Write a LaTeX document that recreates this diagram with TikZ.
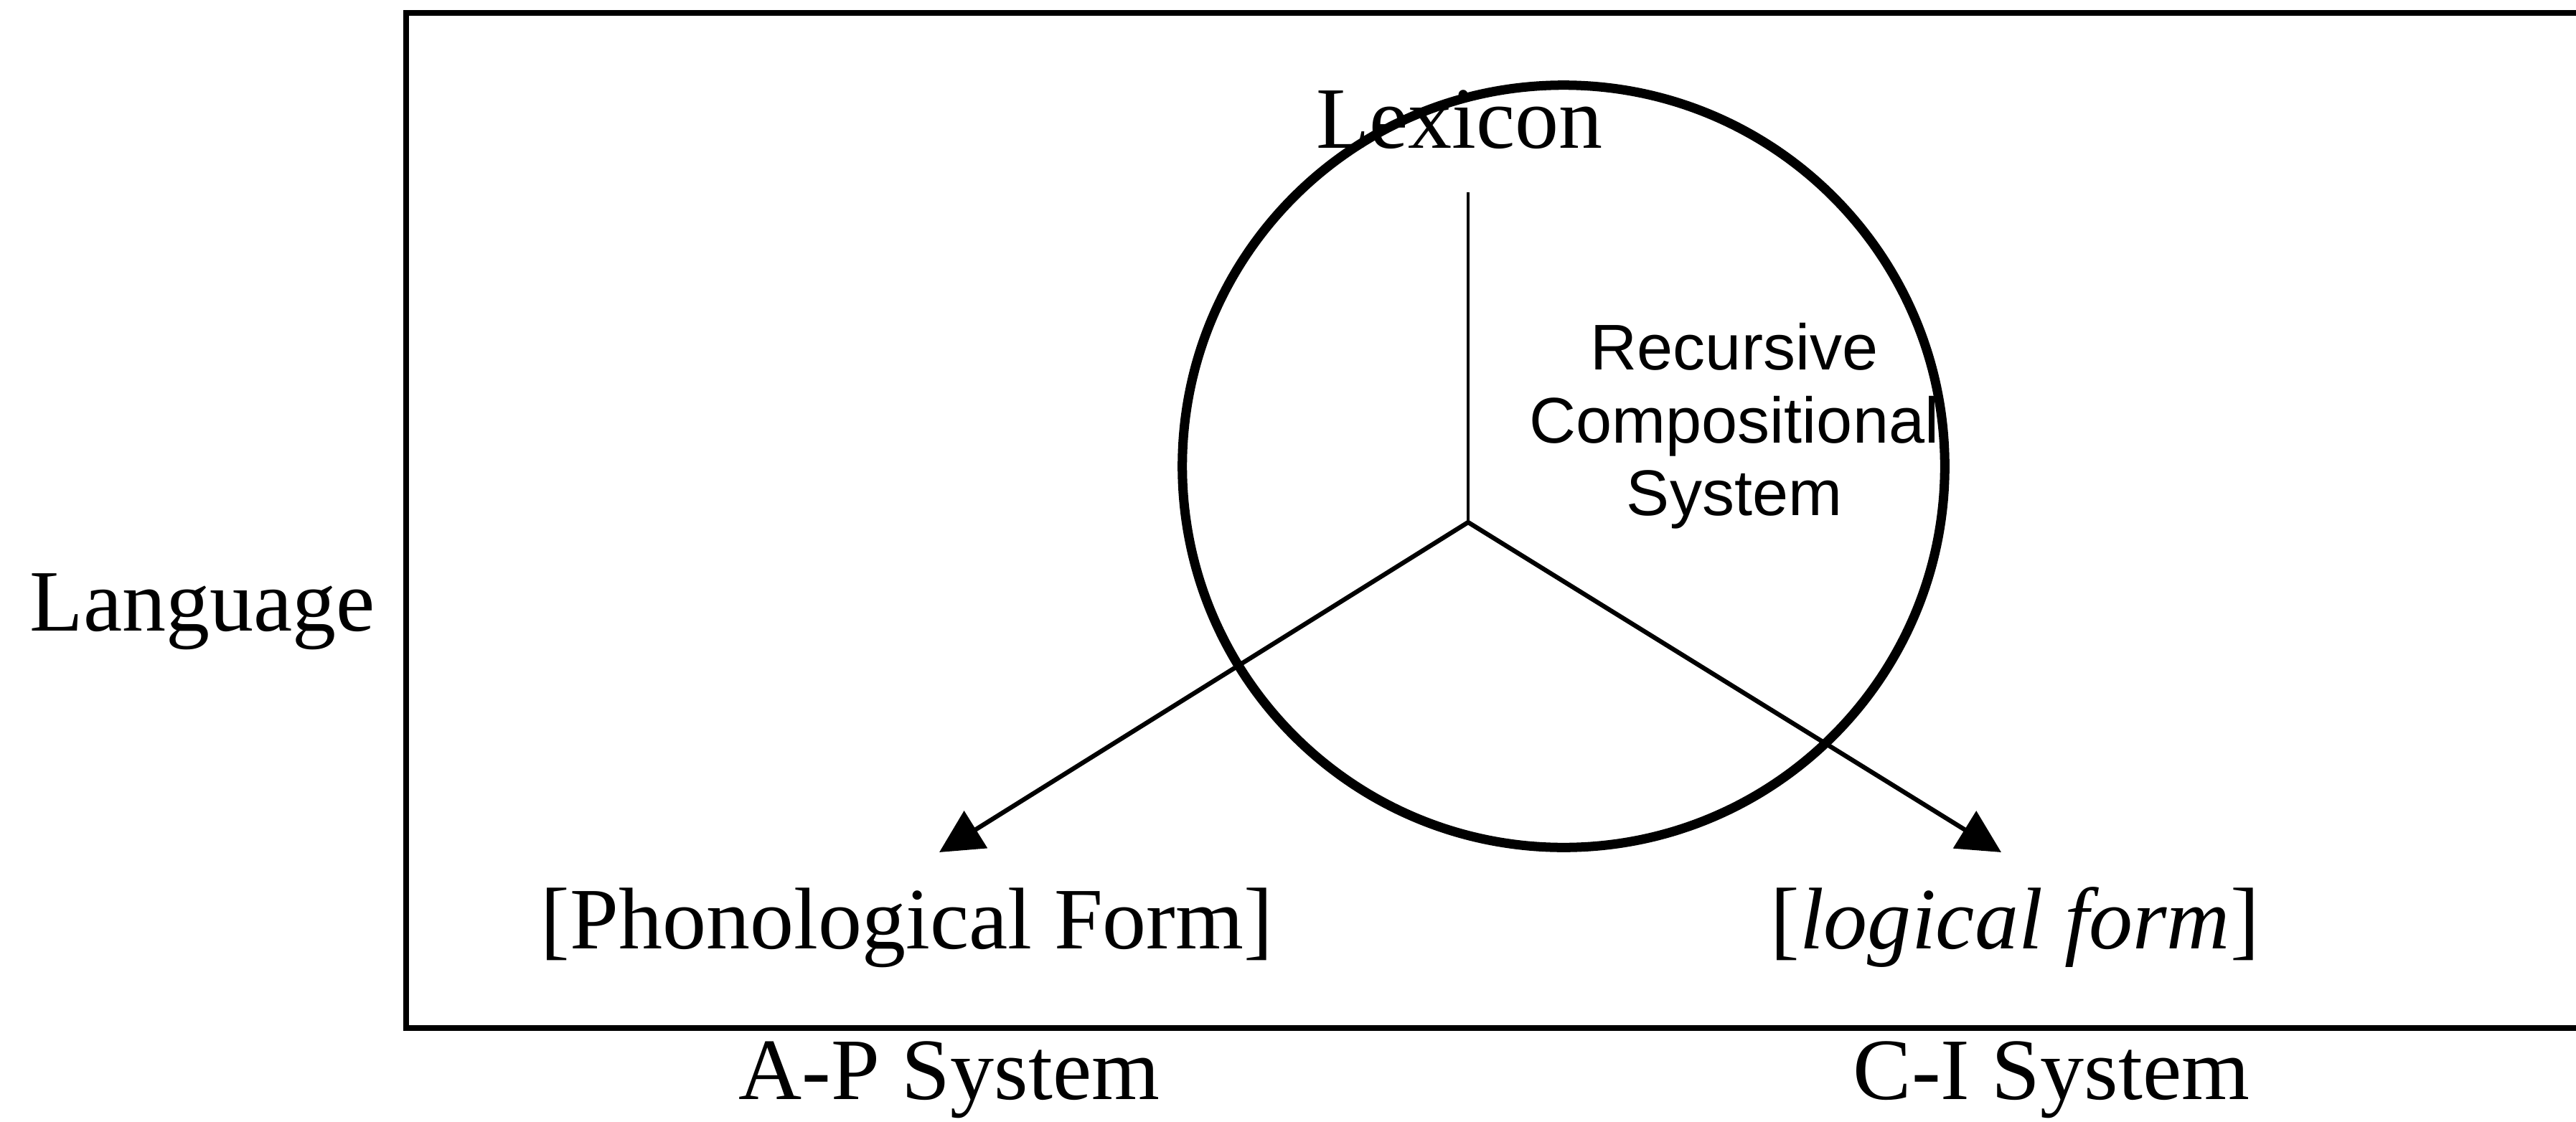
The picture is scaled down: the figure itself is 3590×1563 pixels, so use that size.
\documentclass[tikz,border=0pt]{standalone}
\usepackage{fontspec}
\setmainfont{Liberation Serif}
\setsansfont{Liberation Sans}
\usetikzlibrary{arrows.meta}
\begin{document}
\begin{tikzpicture}[x=0.01cm, y=-0.01cm,
  label/.style={inner sep=0pt, font=\fontsize{34.7pt}{40pt}\selectfont},
  core/.style={inner sep=0pt, align=center, font=\sffamily\fontsize{25.6pt}{28.9pt}\selectfont},
  frame/.style={line width=2.3pt, line cap=butt, line join=miter},
  ring/.style={line width=3.7pt},
  stem/.style={line width=1.3pt},
  branch/.style={line width=1.8pt, -{Triangle[length=0.6cm, width=0.6cm]}}]
  \useasboundingbox (0,0) rectangle (3590,1563);

  % open frame running off the right edge
  \draw[frame] (3590,18) -- (566,18) -- (566,1433) -- (3590,1433);

  % labels
  \node[label, anchor=base] (lang) at (282,879) {Language};
  \node[label, anchor=base] (lex) at (2034,206) {Lexicon};
  \node[label, anchor=base] (pf) at (1264,1322) {[Phonological Form]};
  \node[label, anchor=base] (lf) at (2808,1322) {[\textit{logical form}]};
  \node[label, anchor=base] (ap) at (1323,1532) {A-P System};
  \node[label, anchor=base] (ci) at (2859,1532) {C-I System};
  \node[core] (rcs) at (2417,594) {Recursive\\Compositional\\System};

  % branching structure
  \coordinate (stemtop) at (2046,268);
  \coordinate (hub) at (2046,728);
  \coordinate (pftip) at (1309,1188);
  \coordinate (lftip) at (2789,1188);
  \draw[stem] (stemtop) -- (hub);
  \draw[branch] (hub) -- (pftip);
  \draw[branch] (hub) -- (lftip);

  % the compositional system
  \coordinate (ctr) at (2179,650);
  \draw[ring] (ctr) circle[radius=5.31cm];
\end{tikzpicture}
\end{document}
